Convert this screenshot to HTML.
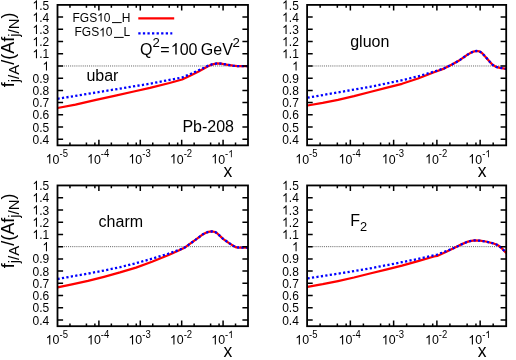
<!DOCTYPE html>
<html><head><meta charset="utf-8"><title>plot</title>
<style>html,body{margin:0;padding:0;background:#fff;}svg{display:block;}text{font-family:'Liberation Sans', sans-serif;fill:#000;}</style>
</head><body>
<svg width="516" height="360" viewBox="0 0 516 360">
<rect x="0" y="0" width="516" height="360" fill="#fff"/>
<line x1="57.5" y1="65.97" x2="248.0" y2="65.97" stroke="#666" stroke-width="1" stroke-dasharray="1.05 1.05"/>
<path d="M57.5,108.0 L75.5,104.6 L94.9,100.1 L114.4,95.8 L133.8,91.5 L150.0,87.9 L169.5,83.0 L182.1,79.5 L190.0,75.7 L198.6,71.4 L204.0,68.5 L208.4,66.0 L212.5,64.4 L217.1,63.4 L221.0,63.6 L227.8,64.8 L233.0,65.7 L237.5,66.1 L248.0,66.1" fill="none" stroke="#ff0000" stroke-width="2.25" stroke-linejoin="round"/>
<path d="M57.5,98.8 L104.6,91.1 L150.0,83.7 L182.1,77.5 L190.0,74.2 L198.6,70.3 L204.0,67.8 L208.4,65.6 L212.5,64.2 L217.1,63.4 L221.0,63.6 L227.8,64.8 L233.0,65.7 L237.5,66.1 L248.0,66.1" fill="none" stroke="#0000ff" stroke-width="2.3" stroke-dasharray="2.2 2.3" stroke-linejoin="round"/>
<path d="M57.5,139.24h5.6M248.0,139.24h-5.6M57.5,127.03h5.6M248.0,127.03h-5.6M57.5,114.82h5.6M248.0,114.82h-5.6M57.5,102.60h5.6M248.0,102.60h-5.6M57.5,90.39h5.6M248.0,90.39h-5.6M57.5,78.18h5.6M248.0,78.18h-5.6M57.5,65.97h5.6M248.0,65.97h-5.6M57.5,53.75h5.6M248.0,53.75h-5.6M57.5,41.54h5.6M248.0,41.54h-5.6M57.5,29.33h5.6M248.0,29.33h-5.6M57.5,17.11h5.6M248.0,17.11h-5.6M69.96,145.35v-2.8M69.96,4.9v2.8M86.43,145.35v-2.8M86.43,4.9v2.8M94.88,145.35v-2.8M94.88,4.9v2.8M98.89,145.35v-5.6M98.89,4.9v5.6M111.36,145.35v-2.8M111.36,4.9v2.8M127.83,145.35v-2.8M127.83,4.9v2.8M136.28,145.35v-2.8M136.28,4.9v2.8M140.29,145.35v-5.6M140.29,4.9v5.6M152.75,145.35v-2.8M152.75,4.9v2.8M169.22,145.35v-2.8M169.22,4.9v2.8M177.67,145.35v-2.8M177.67,4.9v2.8M181.68,145.35v-5.6M181.68,4.9v5.6M194.14,145.35v-2.8M194.14,4.9v2.8M210.62,145.35v-2.8M210.62,4.9v2.8M219.07,145.35v-2.8M219.07,4.9v2.8M223.08,145.35v-5.6M223.08,4.9v5.6M235.54,145.35v-2.8M235.54,4.9v2.8" stroke="#000" stroke-width="1.5" fill="none"/>
<rect x="57.5" y="4.9" width="190.50" height="140.45" fill="none" stroke="#000" stroke-width="1.8"/>
<line x1="307.1" y1="65.97" x2="506.2" y2="65.97" stroke="#666" stroke-width="1" stroke-dasharray="1.05 1.05"/>
<path d="M307.5,105.5 L322.7,102.9 L338.0,99.9 L354.0,96.2 L370.0,92.0 L386.0,87.9 L402.0,83.8 L418.0,78.5 L434.0,72.3 L444.0,68.6 L452.0,64.6 L459.0,60.6 L466.5,55.3 L471.5,52.4 L474.5,51.3 L476.8,51.0 L479.5,51.4 L482.0,53.0 L486.5,57.9 L490.0,62.0 L492.8,65.0 L496.0,66.8 L500.0,67.8 L506.2,68.8" fill="none" stroke="#ff0000" stroke-width="2.25" stroke-linejoin="round"/>
<path d="M307.5,97.7 L338.0,92.4 L370.0,86.8 L386.0,83.6 L402.0,80.2 L418.0,76.4 L434.0,71.6 L444.0,68.4 L452.0,64.6 L459.0,60.6 L466.5,55.3 L471.5,52.4 L474.5,51.3 L476.8,51.0 L479.5,51.4 L482.0,53.0 L486.5,57.9 L490.0,62.0 L492.8,65.0 L496.0,66.8 L500.0,67.8 L506.2,68.8" fill="none" stroke="#0000ff" stroke-width="2.3" stroke-dasharray="2.2 2.3" stroke-linejoin="round"/>
<path d="M307.1,139.24h5.6M506.2,139.24h-5.6M307.1,127.03h5.6M506.2,127.03h-5.6M307.1,114.82h5.6M506.2,114.82h-5.6M307.1,102.60h5.6M506.2,102.60h-5.6M307.1,90.39h5.6M506.2,90.39h-5.6M307.1,78.18h5.6M506.2,78.18h-5.6M307.1,65.97h5.6M506.2,65.97h-5.6M307.1,53.75h5.6M506.2,53.75h-5.6M307.1,41.54h5.6M506.2,41.54h-5.6M307.1,29.33h5.6M506.2,29.33h-5.6M307.1,17.11h5.6M506.2,17.11h-5.6M320.12,145.35v-2.8M320.12,4.9v2.8M337.34,145.35v-2.8M337.34,4.9v2.8M346.17,145.35v-2.8M346.17,4.9v2.8M350.36,145.35v-5.6M350.36,4.9v5.6M363.39,145.35v-2.8M363.39,4.9v2.8M380.60,145.35v-2.8M380.60,4.9v2.8M389.43,145.35v-2.8M389.43,4.9v2.8M393.63,145.35v-5.6M393.63,4.9v5.6M406.65,145.35v-2.8M406.65,4.9v2.8M423.87,145.35v-2.8M423.87,4.9v2.8M432.70,145.35v-2.8M432.70,4.9v2.8M436.89,145.35v-5.6M436.89,4.9v5.6M449.91,145.35v-2.8M449.91,4.9v2.8M467.13,145.35v-2.8M467.13,4.9v2.8M475.96,145.35v-2.8M475.96,4.9v2.8M480.15,145.35v-5.6M480.15,4.9v5.6M493.18,145.35v-2.8M493.18,4.9v2.8" stroke="#000" stroke-width="1.5" fill="none"/>
<rect x="307.1" y="4.9" width="199.10" height="140.45" fill="none" stroke="#000" stroke-width="1.8"/>
<line x1="57.5" y1="246.65" x2="248.0" y2="246.65" stroke="#666" stroke-width="1" stroke-dasharray="1.05 1.05"/>
<path d="M57.5,287.4 L72.0,284.4 L88.0,280.9 L104.0,276.8 L120.0,272.4 L136.0,267.6 L152.0,261.8 L168.0,255.3 L179.2,250.3 L184.0,247.9 L186.0,246.7 L194.7,240.4 L202.5,234.6 L206.0,232.8 L208.4,231.9 L211.8,231.4 L215.0,232.0 L217.1,233.2 L221.5,237.4 L223.0,238.8 L229.8,243.6 L233.5,245.9 L236.0,247.3 L239.0,247.5 L248.0,247.5" fill="none" stroke="#ff0000" stroke-width="2.25" stroke-linejoin="round"/>
<path d="M57.5,279.0 L72.0,276.4 L88.0,273.6 L104.0,270.5 L120.0,267.2 L136.0,263.2 L152.0,258.7 L168.0,253.8 L179.2,249.9 L184.0,247.9 L186.0,246.7 L194.7,240.4 L202.5,234.6 L206.0,232.8 L208.4,231.9 L211.8,231.4 L215.0,232.0 L217.1,233.2 L221.5,237.4 L223.0,238.8 L229.8,243.6 L233.5,245.9 L236.0,247.3 L239.0,247.5 L248.0,247.5" fill="none" stroke="#0000ff" stroke-width="2.3" stroke-dasharray="2.2 2.3" stroke-linejoin="round"/>
<path d="M57.5,320.08h5.6M248.0,320.08h-5.6M57.5,307.84h5.6M248.0,307.84h-5.6M57.5,295.60h5.6M248.0,295.60h-5.6M57.5,283.36h5.6M248.0,283.36h-5.6M57.5,271.12h5.6M248.0,271.12h-5.6M57.5,258.88h5.6M248.0,258.88h-5.6M57.5,246.65h5.6M248.0,246.65h-5.6M57.5,234.41h5.6M248.0,234.41h-5.6M57.5,222.17h5.6M248.0,222.17h-5.6M57.5,209.93h5.6M248.0,209.93h-5.6M57.5,197.69h5.6M248.0,197.69h-5.6M69.96,326.2v-2.8M69.96,185.45v2.8M86.43,326.2v-2.8M86.43,185.45v2.8M94.88,326.2v-2.8M94.88,185.45v2.8M98.89,326.2v-5.6M98.89,185.45v5.6M111.36,326.2v-2.8M111.36,185.45v2.8M127.83,326.2v-2.8M127.83,185.45v2.8M136.28,326.2v-2.8M136.28,185.45v2.8M140.29,326.2v-5.6M140.29,185.45v5.6M152.75,326.2v-2.8M152.75,185.45v2.8M169.22,326.2v-2.8M169.22,185.45v2.8M177.67,326.2v-2.8M177.67,185.45v2.8M181.68,326.2v-5.6M181.68,185.45v5.6M194.14,326.2v-2.8M194.14,185.45v2.8M210.62,326.2v-2.8M210.62,185.45v2.8M219.07,326.2v-2.8M219.07,185.45v2.8M223.08,326.2v-5.6M223.08,185.45v5.6M235.54,326.2v-2.8M235.54,185.45v2.8" stroke="#000" stroke-width="1.5" fill="none"/>
<rect x="57.5" y="185.45" width="190.50" height="140.75" fill="none" stroke="#000" stroke-width="1.8"/>
<line x1="307.1" y1="246.65" x2="506.2" y2="246.65" stroke="#666" stroke-width="1" stroke-dasharray="1.05 1.05"/>
<path d="M307.5,286.8 L322.7,284.2 L338.0,281.1 L354.0,277.5 L370.0,273.5 L386.0,269.6 L402.0,265.7 L418.0,261.2 L434.0,256.5 L437.2,255.9 L446.9,251.4 L456.6,246.8 L462.0,244.1 L466.4,242.2 L470.0,241.1 L474.5,240.4 L480.0,240.7 L485.8,241.5 L493.6,243.5 L497.0,244.8 L499.4,246.3 L502.0,248.4 L506.2,253.0" fill="none" stroke="#ff0000" stroke-width="2.25" stroke-linejoin="round"/>
<path d="M307.5,278.4 L338.0,273.7 L370.0,268.4 L402.0,262.2 L418.0,258.9 L434.0,255.2 L437.2,254.5 L446.9,251.0 L456.6,246.8 L462.0,244.1 L466.4,242.2 L470.0,241.1 L474.5,240.4 L480.0,240.7 L485.8,241.5 L493.6,243.5 L497.0,244.8 L499.4,246.3 L502.0,248.4 L506.2,253.0" fill="none" stroke="#0000ff" stroke-width="2.3" stroke-dasharray="2.2 2.3" stroke-linejoin="round"/>
<path d="M307.1,320.08h5.6M506.2,320.08h-5.6M307.1,307.84h5.6M506.2,307.84h-5.6M307.1,295.60h5.6M506.2,295.60h-5.6M307.1,283.36h5.6M506.2,283.36h-5.6M307.1,271.12h5.6M506.2,271.12h-5.6M307.1,258.88h5.6M506.2,258.88h-5.6M307.1,246.65h5.6M506.2,246.65h-5.6M307.1,234.41h5.6M506.2,234.41h-5.6M307.1,222.17h5.6M506.2,222.17h-5.6M307.1,209.93h5.6M506.2,209.93h-5.6M307.1,197.69h5.6M506.2,197.69h-5.6M320.12,326.2v-2.8M320.12,185.45v2.8M337.34,326.2v-2.8M337.34,185.45v2.8M346.17,326.2v-2.8M346.17,185.45v2.8M350.36,326.2v-5.6M350.36,185.45v5.6M363.39,326.2v-2.8M363.39,185.45v2.8M380.60,326.2v-2.8M380.60,185.45v2.8M389.43,326.2v-2.8M389.43,185.45v2.8M393.63,326.2v-5.6M393.63,185.45v5.6M406.65,326.2v-2.8M406.65,185.45v2.8M423.87,326.2v-2.8M423.87,185.45v2.8M432.70,326.2v-2.8M432.70,185.45v2.8M436.89,326.2v-5.6M436.89,185.45v5.6M449.91,326.2v-2.8M449.91,185.45v2.8M467.13,326.2v-2.8M467.13,185.45v2.8M475.96,326.2v-2.8M475.96,185.45v2.8M480.15,326.2v-5.6M480.15,185.45v5.6M493.18,326.2v-2.8M493.18,185.45v2.8" stroke="#000" stroke-width="1.5" fill="none"/>
<rect x="307.1" y="185.45" width="199.10" height="140.75" fill="none" stroke="#000" stroke-width="1.8"/>
<line x1="138.3" y1="18.3" x2="174.2" y2="18.3" stroke="#ff0000" stroke-width="2.25"/>
<line x1="138.3" y1="33.3" x2="172.3" y2="33.3" stroke="#0000ff" stroke-width="2.3" stroke-dasharray="2.3 2.27"/>
<g style="isolation:isolate;mix-blend-mode:multiply">
<text transform="translate(49.20,143.84) scale(1,1.07)" font-size="12" text-anchor="end">0.4</text>
<text transform="translate(49.20,131.63) scale(1,1.07)" font-size="12" text-anchor="end">0.5</text>
<text transform="translate(49.20,119.42) scale(1,1.07)" font-size="12" text-anchor="end">0.6</text>
<text transform="translate(49.20,107.20) scale(1,1.07)" font-size="12" text-anchor="end">0.7</text>
<text transform="translate(49.20,94.99) scale(1,1.07)" font-size="12" text-anchor="end">0.8</text>
<text transform="translate(49.20,82.78) scale(1,1.07)" font-size="12" text-anchor="end">0.9</text>
<path transform="translate(42.53,70.57) scale(0.00586,-0.00627)" d="M763 0H583V1147Q480 1050 223 930V1104Q520 1250 645 1466H763Z" fill="#000"/>
<text transform="translate(49.20,58.35) scale(1,1.07)" font-size="12" text-anchor="end">.1</text>
<path transform="translate(32.52,58.35) scale(0.00586,-0.00627)" d="M763 0H583V1147Q480 1050 223 930V1104Q520 1250 645 1466H763Z" fill="#000"/>
<text transform="translate(49.20,46.14) scale(1,1.07)" font-size="12" text-anchor="end">.2</text>
<path transform="translate(32.52,46.14) scale(0.00586,-0.00627)" d="M763 0H583V1147Q480 1050 223 930V1104Q520 1250 645 1466H763Z" fill="#000"/>
<text transform="translate(49.20,33.93) scale(1,1.07)" font-size="12" text-anchor="end">.3</text>
<path transform="translate(32.52,33.93) scale(0.00586,-0.00627)" d="M763 0H583V1147Q480 1050 223 930V1104Q520 1250 645 1466H763Z" fill="#000"/>
<text transform="translate(49.20,21.71) scale(1,1.07)" font-size="12" text-anchor="end">.4</text>
<path transform="translate(32.52,21.71) scale(0.00586,-0.00627)" d="M763 0H583V1147Q480 1050 223 930V1104Q520 1250 645 1466H763Z" fill="#000"/>
<text transform="translate(49.20,9.50) scale(1,1.07)" font-size="12" text-anchor="end">.5</text>
<path transform="translate(32.52,9.50) scale(0.00586,-0.00627)" d="M763 0H583V1147Q480 1050 223 930V1104Q520 1250 645 1466H763Z" fill="#000"/>
<path transform="translate(45.68,163.55) scale(0.00605,-0.00648)" d="M763 0H583V1147Q480 1050 223 930V1104Q520 1250 645 1466H763Z" fill="#000"/>
<text transform="translate(52.58,163.55) scale(1,1.07)" font-size="12.4">0<tspan font-size="9.5" dy="-5.9">-</tspan><tspan font-size="9.5">5</tspan></text>
<path transform="translate(87.07,163.55) scale(0.00605,-0.00648)" d="M763 0H583V1147Q480 1050 223 930V1104Q520 1250 645 1466H763Z" fill="#000"/>
<text transform="translate(93.97,163.55) scale(1,1.07)" font-size="12.4">0<tspan font-size="9.5" dy="-5.9">-</tspan><tspan font-size="9.5">4</tspan></text>
<path transform="translate(128.47,163.55) scale(0.00605,-0.00648)" d="M763 0H583V1147Q480 1050 223 930V1104Q520 1250 645 1466H763Z" fill="#000"/>
<text transform="translate(135.37,163.55) scale(1,1.07)" font-size="12.4">0<tspan font-size="9.5" dy="-5.9">-</tspan><tspan font-size="9.5">3</tspan></text>
<path transform="translate(169.86,163.55) scale(0.00605,-0.00648)" d="M763 0H583V1147Q480 1050 223 930V1104Q520 1250 645 1466H763Z" fill="#000"/>
<text transform="translate(176.76,163.55) scale(1,1.07)" font-size="12.4">0<tspan font-size="9.5" dy="-5.9">-</tspan><tspan font-size="9.5">2</tspan></text>
<path transform="translate(211.26,163.55) scale(0.00605,-0.00648)" d="M763 0H583V1147Q480 1050 223 930V1104Q520 1250 645 1466H763Z" fill="#000"/>
<text transform="translate(218.15,163.55) scale(1,1.07)" font-size="12.4">0<tspan font-size="9.5" dy="-5.9">-</tspan></text>
<path transform="translate(228.21,157.24) scale(0.00464,-0.00496)" d="M763 0H583V1147Q480 1050 223 930V1104Q520 1250 645 1466H763Z" fill="#000"/>
<text x="227.80" y="176.65" font-size="17.5" text-anchor="middle">x</text>
<text transform="translate(298.80,143.84) scale(1,1.07)" font-size="12" text-anchor="end">0.4</text>
<text transform="translate(298.80,131.63) scale(1,1.07)" font-size="12" text-anchor="end">0.5</text>
<text transform="translate(298.80,119.42) scale(1,1.07)" font-size="12" text-anchor="end">0.6</text>
<text transform="translate(298.80,107.20) scale(1,1.07)" font-size="12" text-anchor="end">0.7</text>
<text transform="translate(298.80,94.99) scale(1,1.07)" font-size="12" text-anchor="end">0.8</text>
<text transform="translate(298.80,82.78) scale(1,1.07)" font-size="12" text-anchor="end">0.9</text>
<path transform="translate(292.13,70.57) scale(0.00586,-0.00627)" d="M763 0H583V1147Q480 1050 223 930V1104Q520 1250 645 1466H763Z" fill="#000"/>
<text transform="translate(298.80,58.35) scale(1,1.07)" font-size="12" text-anchor="end">.1</text>
<path transform="translate(282.12,58.35) scale(0.00586,-0.00627)" d="M763 0H583V1147Q480 1050 223 930V1104Q520 1250 645 1466H763Z" fill="#000"/>
<text transform="translate(298.80,46.14) scale(1,1.07)" font-size="12" text-anchor="end">.2</text>
<path transform="translate(282.12,46.14) scale(0.00586,-0.00627)" d="M763 0H583V1147Q480 1050 223 930V1104Q520 1250 645 1466H763Z" fill="#000"/>
<text transform="translate(298.80,33.93) scale(1,1.07)" font-size="12" text-anchor="end">.3</text>
<path transform="translate(282.12,33.93) scale(0.00586,-0.00627)" d="M763 0H583V1147Q480 1050 223 930V1104Q520 1250 645 1466H763Z" fill="#000"/>
<text transform="translate(298.80,21.71) scale(1,1.07)" font-size="12" text-anchor="end">.4</text>
<path transform="translate(282.12,21.71) scale(0.00586,-0.00627)" d="M763 0H583V1147Q480 1050 223 930V1104Q520 1250 645 1466H763Z" fill="#000"/>
<text transform="translate(298.80,9.50) scale(1,1.07)" font-size="12" text-anchor="end">.5</text>
<path transform="translate(282.12,9.50) scale(0.00586,-0.00627)" d="M763 0H583V1147Q480 1050 223 930V1104Q520 1250 645 1466H763Z" fill="#000"/>
<path transform="translate(295.28,163.55) scale(0.00605,-0.00648)" d="M763 0H583V1147Q480 1050 223 930V1104Q520 1250 645 1466H763Z" fill="#000"/>
<text transform="translate(302.18,163.55) scale(1,1.07)" font-size="12.4">0<tspan font-size="9.5" dy="-5.9">-</tspan><tspan font-size="9.5">5</tspan></text>
<path transform="translate(338.54,163.55) scale(0.00605,-0.00648)" d="M763 0H583V1147Q480 1050 223 930V1104Q520 1250 645 1466H763Z" fill="#000"/>
<text transform="translate(345.44,163.55) scale(1,1.07)" font-size="12.4">0<tspan font-size="9.5" dy="-5.9">-</tspan><tspan font-size="9.5">4</tspan></text>
<path transform="translate(381.81,163.55) scale(0.00605,-0.00648)" d="M763 0H583V1147Q480 1050 223 930V1104Q520 1250 645 1466H763Z" fill="#000"/>
<text transform="translate(388.70,163.55) scale(1,1.07)" font-size="12.4">0<tspan font-size="9.5" dy="-5.9">-</tspan><tspan font-size="9.5">3</tspan></text>
<path transform="translate(425.07,163.55) scale(0.00605,-0.00648)" d="M763 0H583V1147Q480 1050 223 930V1104Q520 1250 645 1466H763Z" fill="#000"/>
<text transform="translate(431.97,163.55) scale(1,1.07)" font-size="12.4">0<tspan font-size="9.5" dy="-5.9">-</tspan><tspan font-size="9.5">2</tspan></text>
<path transform="translate(468.33,163.55) scale(0.00605,-0.00648)" d="M763 0H583V1147Q480 1050 223 930V1104Q520 1250 645 1466H763Z" fill="#000"/>
<text transform="translate(475.23,163.55) scale(1,1.07)" font-size="12.4">0<tspan font-size="9.5" dy="-5.9">-</tspan></text>
<path transform="translate(485.29,157.24) scale(0.00464,-0.00496)" d="M763 0H583V1147Q480 1050 223 930V1104Q520 1250 645 1466H763Z" fill="#000"/>
<text x="482.00" y="176.65" font-size="17.5" text-anchor="middle">x</text>
<text transform="translate(49.20,324.68) scale(1,1.07)" font-size="12" text-anchor="end">0.4</text>
<text transform="translate(49.20,312.44) scale(1,1.07)" font-size="12" text-anchor="end">0.5</text>
<text transform="translate(49.20,300.20) scale(1,1.07)" font-size="12" text-anchor="end">0.6</text>
<text transform="translate(49.20,287.96) scale(1,1.07)" font-size="12" text-anchor="end">0.7</text>
<text transform="translate(49.20,275.72) scale(1,1.07)" font-size="12" text-anchor="end">0.8</text>
<text transform="translate(49.20,263.48) scale(1,1.07)" font-size="12" text-anchor="end">0.9</text>
<path transform="translate(42.53,251.25) scale(0.00586,-0.00627)" d="M763 0H583V1147Q480 1050 223 930V1104Q520 1250 645 1466H763Z" fill="#000"/>
<text transform="translate(49.20,239.01) scale(1,1.07)" font-size="12" text-anchor="end">.1</text>
<path transform="translate(32.52,239.01) scale(0.00586,-0.00627)" d="M763 0H583V1147Q480 1050 223 930V1104Q520 1250 645 1466H763Z" fill="#000"/>
<text transform="translate(49.20,226.77) scale(1,1.07)" font-size="12" text-anchor="end">.2</text>
<path transform="translate(32.52,226.77) scale(0.00586,-0.00627)" d="M763 0H583V1147Q480 1050 223 930V1104Q520 1250 645 1466H763Z" fill="#000"/>
<text transform="translate(49.20,214.53) scale(1,1.07)" font-size="12" text-anchor="end">.3</text>
<path transform="translate(32.52,214.53) scale(0.00586,-0.00627)" d="M763 0H583V1147Q480 1050 223 930V1104Q520 1250 645 1466H763Z" fill="#000"/>
<text transform="translate(49.20,202.29) scale(1,1.07)" font-size="12" text-anchor="end">.4</text>
<path transform="translate(32.52,202.29) scale(0.00586,-0.00627)" d="M763 0H583V1147Q480 1050 223 930V1104Q520 1250 645 1466H763Z" fill="#000"/>
<text transform="translate(49.20,190.05) scale(1,1.07)" font-size="12" text-anchor="end">.5</text>
<path transform="translate(32.52,190.05) scale(0.00586,-0.00627)" d="M763 0H583V1147Q480 1050 223 930V1104Q520 1250 645 1466H763Z" fill="#000"/>
<path transform="translate(45.68,344.40) scale(0.00605,-0.00648)" d="M763 0H583V1147Q480 1050 223 930V1104Q520 1250 645 1466H763Z" fill="#000"/>
<text transform="translate(52.58,344.40) scale(1,1.07)" font-size="12.4">0<tspan font-size="9.5" dy="-5.9">-</tspan><tspan font-size="9.5">5</tspan></text>
<path transform="translate(87.07,344.40) scale(0.00605,-0.00648)" d="M763 0H583V1147Q480 1050 223 930V1104Q520 1250 645 1466H763Z" fill="#000"/>
<text transform="translate(93.97,344.40) scale(1,1.07)" font-size="12.4">0<tspan font-size="9.5" dy="-5.9">-</tspan><tspan font-size="9.5">4</tspan></text>
<path transform="translate(128.47,344.40) scale(0.00605,-0.00648)" d="M763 0H583V1147Q480 1050 223 930V1104Q520 1250 645 1466H763Z" fill="#000"/>
<text transform="translate(135.37,344.40) scale(1,1.07)" font-size="12.4">0<tspan font-size="9.5" dy="-5.9">-</tspan><tspan font-size="9.5">3</tspan></text>
<path transform="translate(169.86,344.40) scale(0.00605,-0.00648)" d="M763 0H583V1147Q480 1050 223 930V1104Q520 1250 645 1466H763Z" fill="#000"/>
<text transform="translate(176.76,344.40) scale(1,1.07)" font-size="12.4">0<tspan font-size="9.5" dy="-5.9">-</tspan><tspan font-size="9.5">2</tspan></text>
<path transform="translate(211.26,344.40) scale(0.00605,-0.00648)" d="M763 0H583V1147Q480 1050 223 930V1104Q520 1250 645 1466H763Z" fill="#000"/>
<text transform="translate(218.15,344.40) scale(1,1.07)" font-size="12.4">0<tspan font-size="9.5" dy="-5.9">-</tspan></text>
<path transform="translate(228.21,338.09) scale(0.00464,-0.00496)" d="M763 0H583V1147Q480 1050 223 930V1104Q520 1250 645 1466H763Z" fill="#000"/>
<text x="227.80" y="356.60" font-size="17.5" text-anchor="middle">x</text>
<text transform="translate(298.80,324.68) scale(1,1.07)" font-size="12" text-anchor="end">0.4</text>
<text transform="translate(298.80,312.44) scale(1,1.07)" font-size="12" text-anchor="end">0.5</text>
<text transform="translate(298.80,300.20) scale(1,1.07)" font-size="12" text-anchor="end">0.6</text>
<text transform="translate(298.80,287.96) scale(1,1.07)" font-size="12" text-anchor="end">0.7</text>
<text transform="translate(298.80,275.72) scale(1,1.07)" font-size="12" text-anchor="end">0.8</text>
<text transform="translate(298.80,263.48) scale(1,1.07)" font-size="12" text-anchor="end">0.9</text>
<path transform="translate(292.13,251.25) scale(0.00586,-0.00627)" d="M763 0H583V1147Q480 1050 223 930V1104Q520 1250 645 1466H763Z" fill="#000"/>
<text transform="translate(298.80,239.01) scale(1,1.07)" font-size="12" text-anchor="end">.1</text>
<path transform="translate(282.12,239.01) scale(0.00586,-0.00627)" d="M763 0H583V1147Q480 1050 223 930V1104Q520 1250 645 1466H763Z" fill="#000"/>
<text transform="translate(298.80,226.77) scale(1,1.07)" font-size="12" text-anchor="end">.2</text>
<path transform="translate(282.12,226.77) scale(0.00586,-0.00627)" d="M763 0H583V1147Q480 1050 223 930V1104Q520 1250 645 1466H763Z" fill="#000"/>
<text transform="translate(298.80,214.53) scale(1,1.07)" font-size="12" text-anchor="end">.3</text>
<path transform="translate(282.12,214.53) scale(0.00586,-0.00627)" d="M763 0H583V1147Q480 1050 223 930V1104Q520 1250 645 1466H763Z" fill="#000"/>
<text transform="translate(298.80,202.29) scale(1,1.07)" font-size="12" text-anchor="end">.4</text>
<path transform="translate(282.12,202.29) scale(0.00586,-0.00627)" d="M763 0H583V1147Q480 1050 223 930V1104Q520 1250 645 1466H763Z" fill="#000"/>
<text transform="translate(298.80,190.05) scale(1,1.07)" font-size="12" text-anchor="end">.5</text>
<path transform="translate(282.12,190.05) scale(0.00586,-0.00627)" d="M763 0H583V1147Q480 1050 223 930V1104Q520 1250 645 1466H763Z" fill="#000"/>
<path transform="translate(295.28,344.40) scale(0.00605,-0.00648)" d="M763 0H583V1147Q480 1050 223 930V1104Q520 1250 645 1466H763Z" fill="#000"/>
<text transform="translate(302.18,344.40) scale(1,1.07)" font-size="12.4">0<tspan font-size="9.5" dy="-5.9">-</tspan><tspan font-size="9.5">5</tspan></text>
<path transform="translate(338.54,344.40) scale(0.00605,-0.00648)" d="M763 0H583V1147Q480 1050 223 930V1104Q520 1250 645 1466H763Z" fill="#000"/>
<text transform="translate(345.44,344.40) scale(1,1.07)" font-size="12.4">0<tspan font-size="9.5" dy="-5.9">-</tspan><tspan font-size="9.5">4</tspan></text>
<path transform="translate(381.81,344.40) scale(0.00605,-0.00648)" d="M763 0H583V1147Q480 1050 223 930V1104Q520 1250 645 1466H763Z" fill="#000"/>
<text transform="translate(388.70,344.40) scale(1,1.07)" font-size="12.4">0<tspan font-size="9.5" dy="-5.9">-</tspan><tspan font-size="9.5">3</tspan></text>
<path transform="translate(425.07,344.40) scale(0.00605,-0.00648)" d="M763 0H583V1147Q480 1050 223 930V1104Q520 1250 645 1466H763Z" fill="#000"/>
<text transform="translate(431.97,344.40) scale(1,1.07)" font-size="12.4">0<tspan font-size="9.5" dy="-5.9">-</tspan><tspan font-size="9.5">2</tspan></text>
<path transform="translate(468.33,344.40) scale(0.00605,-0.00648)" d="M763 0H583V1147Q480 1050 223 930V1104Q520 1250 645 1466H763Z" fill="#000"/>
<text transform="translate(475.23,344.40) scale(1,1.07)" font-size="12.4">0<tspan font-size="9.5" dy="-5.9">-</tspan></text>
<path transform="translate(485.29,338.09) scale(0.00464,-0.00496)" d="M763 0H583V1147Q480 1050 223 930V1104Q520 1250 645 1466H763Z" fill="#000"/>
<text x="482.00" y="356.60" font-size="17.5" text-anchor="middle">x</text>
<text transform="translate(13.9,87.30) rotate(-90)" font-size="18">f<tspan font-size="15" dy="5.4">j/A</tspan><tspan dy="-5.4">/(Af</tspan><tspan font-size="15" dy="5.4">j/N</tspan><tspan dy="-5.4">)</tspan></text>
<text transform="translate(13.9,268.35) rotate(-90)" font-size="18">f<tspan font-size="15" dy="5.4">j/A</tspan><tspan dy="-5.4">/(Af</tspan><tspan font-size="15" dy="5.4">j/N</tspan><tspan dy="-5.4">)</tspan></text>
<text x="86.4" y="81" font-size="16">ubar</text>
<text x="182.4" y="132.4" font-size="16">Pb-208</text>
<text x="140.1" y="54.5" font-size="16">Q<tspan font-size="13.2" dy="-8">2</tspan><tspan dy="8" dx="0.25">=</tspan></text>
<path transform="translate(170.73,54.50) scale(0.00781,-0.00781)" d="M763 0H583V1147Q480 1050 223 930V1104Q520 1250 645 1466H763Z" fill="#000"/>
<text x="179.63" y="54.5" font-size="16">00<tspan dx="-1.0"> GeV</tspan><tspan font-size="13.2" dy="-8" dx="-0.3">2</tspan></text>
<text x="350.2" y="47.4" font-size="16">gluon</text>
<text x="98.6" y="227.4" font-size="16">charm</text>
<text x="350.2" y="225.9" font-size="16">F<tspan font-size="12.8" dy="4.8">2</tspan></text>
<text x="110.50" y="21.6" font-size="12" text-anchor="end">0</text>
<path transform="translate(97.15,21.60) scale(0.00586,-0.00586)" d="M763 0H583V1147Q480 1050 223 930V1104Q520 1250 645 1466H763Z" fill="#000"/>
<text x="97.15" y="21.6" font-size="12" text-anchor="end">FGS</text>
<text x="130.3" y="21.6" font-size="12" text-anchor="end">H</text>
<line x1="112.0" y1="22.6" x2="121.7" y2="22.6" stroke="#000" stroke-width="1"/>
<text x="112.50" y="36.4" font-size="12" text-anchor="end">0</text>
<path transform="translate(99.15,36.40) scale(0.00586,-0.00586)" d="M763 0H583V1147Q480 1050 223 930V1104Q520 1250 645 1466H763Z" fill="#000"/>
<text x="99.15" y="36.4" font-size="12" text-anchor="end">FGS</text>
<text x="130.3" y="36.4" font-size="12" text-anchor="end">L</text>
<line x1="114.0" y1="37.4" x2="123.7" y2="37.4" stroke="#000" stroke-width="1"/>
</g>
</svg>
</body></html>
